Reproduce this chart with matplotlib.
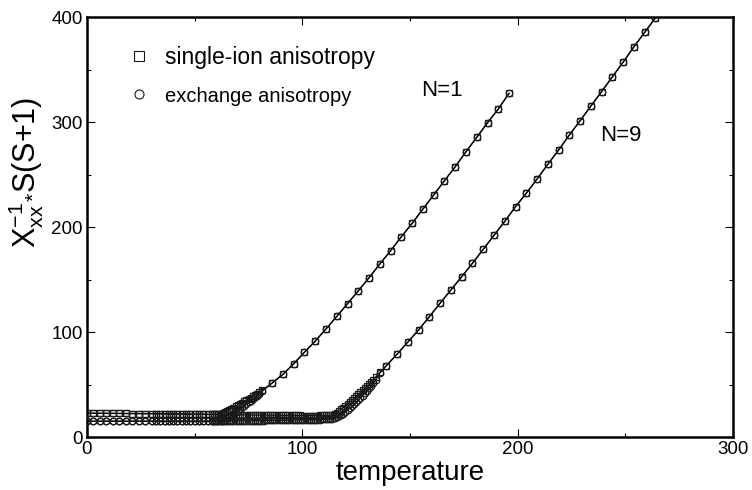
#!/usr/bin/env python3
"""
Inverse susceptibility X_xx^-1 * S(S+1) versus temperature for N=1 and N=9,
comparing single-ion and exchange anisotropy.
"""

import matplotlib
matplotlib.use("Agg")
import matplotlib.pyplot as plt
from matplotlib.lines import Line2D
from matplotlib.ticker import MultipleLocator

plt.rcParams["font.family"] = ["Liberation Sans", "DejaVu Sans"]
plt.rcParams["mathtext.fontset"] = "custom"
plt.rcParams["mathtext.rm"] = "Liberation Sans"
plt.rcParams["mathtext.it"] = "Liberation Sans"

# --- data ----------------------------------------------------------------

# low temperature part, shared by N=1 and N=9
T_low = [0, 3, 6, 9, 12, 15, 18, 21, 24, 27, 30, 32, 34, 36, 38, 40, 42, 44,
         46, 48, 50, 52, 54, 56, 58]
single_low = [22.6, 22.6, 22.5, 22.5, 22.5, 22.4, 22.4, 22.3, 22.3, 22.2,
              22.2, 22.1, 22.1, 22.0, 22.0, 21.9, 21.9, 21.8, 21.8, 21.7,
              21.7, 21.6, 21.6, 21.5, 21.5]
exch_low = [15.0, 15.0, 15.0, 15.0, 15.0, 15.0, 15.0, 15.0, 15.0, 15.0,
            15.0, 15.0, 15.0, 15.0, 15.0, 15.0, 15.0, 15.0, 15.0, 15.0,
            15.0, 15.0, 15.0, 15.0, 15.0]

# N=1: onset region
T1_rise = [59, 60, 61, 62, 63, 64, 65, 66, 67, 68, 69, 70, 71, 72, 73, 74,
           75, 76, 77, 78, 79, 80, 81.5, 86]
single1_rise = [21.5, 21.5, 21.8, 22.3, 23.0, 23.8, 24.7, 25.7, 26.8, 27.9,
                29.1, 30.3, 31.5, 32.7, 33.9, 35.1, 36.3, 37.5, 38.8, 40.0,
                41.3, 42.6, 44.5, 51.5]
exch1_rise = [15.0, 15.1, 15.3, 15.4, 15.5, 16.5, 17.7, 19.0, 20.5, 22.0,
              23.5, 25.0, 26.6, 28.2, 29.8, 31.4, 33.0, 34.6, 36.2, 37.8,
              39.5, 41.2, 44.0, 51.5]

# N=1: Curie-Weiss part (both anisotropies coincide)
T1_high = [91, 96, 101, 106, 111, 116, 121, 126, 131, 136, 141, 146, 151,
           156, 161, 166, 171, 176, 181, 186, 191, 196]
y1_high = [59.7, 69.8, 80.7, 91.4, 102.9, 114.9, 127.0, 139.3, 151.7, 164.8,
           177.4, 190.8, 203.5, 217.1, 230.5, 244.1, 257.4, 271.7, 285.4,
           299.3, 312.4, 327.3]

# N=9: plateau and onset region
T9_mid = [59, 60, 61, 62, 63, 64, 65, 66, 67, 68, 69, 70, 71, 72, 73, 74, 75,
          76, 77, 78, 79, 80, 81, 82, 83, 84, 85, 86, 87, 88, 89, 90, 91, 92,
          93, 94, 95, 96, 97, 98, 99, 100, 101, 102, 103, 104, 105, 106, 107,
          108, 109, 110, 111, 112, 113, 114, 115, 116, 117, 118, 119, 120,
          121, 122, 123, 124, 125, 126, 127, 128, 129, 130, 131, 132, 133,
          134, 136]
single9_mid = [21.5,
               21.5, 21.5, 21.4, 21.4, 21.4, 21.3, 21.3, 21.3, 21.2, 21.2,
               21.2, 21.1, 21.1, 21.1, 21.0, 21.0, 21.0, 20.9, 20.9, 20.9,
               20.9, 20.8, 20.8, 20.8, 20.8, 20.7, 20.7, 20.7, 20.7, 20.6,
               20.6, 20.6, 20.6, 20.6, 20.5, 20.5, 20.5, 20.5, 20.5, 20.5,
               20.4, 20.4, 20.4, 20.4, 20.4, 20.4, 20.4, 20.4, 20.5, 20.5,
               20.5, 20.6, 20.7, 20.8,
               21.0, 22.0, 23.3, 24.8, 26.4, 28.0, 29.7, 31.4, 33.2, 35.0,
               36.8, 38.7, 40.6, 42.5, 44.5, 46.5, 48.5, 50.5, 52.6, 54.7,
               56.8, 61.5]
exch9_mid = [15.0,
             15.0, 15.0, 15.1, 15.1, 15.1, 15.2, 15.2, 15.2, 15.3, 15.3,
             15.3, 15.4, 15.4, 15.4, 15.5, 15.5, 15.5, 15.6, 15.6, 15.6,
             15.7, 15.7, 15.7, 15.8, 15.8, 15.8, 15.9, 15.9, 15.9, 16.0,
             16.0, 16.0, 16.1, 16.1, 16.1, 16.2, 16.2, 16.2, 16.3, 16.3,
             16.3, 16.4, 16.4, 16.4, 16.5, 16.5, 16.5, 16.6, 16.6, 16.7,
             16.7, 16.8, 16.9, 17.0,
             17.3, 17.8, 18.6, 19.6, 20.8, 22.2, 23.8, 25.5, 27.3, 29.2,
             31.1, 33.1, 35.2, 37.3, 39.5, 41.7, 44.0, 46.4, 48.9, 51.5,
             54.3, 61.0]

# N=9: Curie-Weiss part
T9_high = [139, 144, 149, 154, 159, 164, 169, 174, 179, 184, 189, 194, 199,
           204, 209, 214, 219, 224, 229, 234, 239, 244, 249, 254, 259, 264]
y9_high = [67.9, 78.9, 90.5, 102.0, 114.6, 127.5, 140.0, 152.7, 165.4, 178.8,
           192.1, 205.4, 219.3, 232.1, 245.7, 259.7, 273.3, 287.6, 301.2,
           315.2, 329.0, 343.1, 357.0, 371.7, 385.4, 399.3]

labels = ["single-ion anisotropy", "exchange anisotropy"]

# --- figure --------------------------------------------------------------

fig = plt.figure(figsize=(7.52, 4.90), dpi=100)
ax = fig.add_axes([87 / 752, 53 / 490, 646 / 752, 420 / 490])

series = [
    (T_low + T1_rise + T1_high, single_low + single1_rise + y1_high, "s"),
    (T_low + T1_rise + T1_high, exch_low + exch1_rise + y1_high, "o"),
    (T_low + T9_mid + T9_high, single_low + single9_mid + y9_high, "s"),
    (T_low + T9_mid + T9_high, exch_low + exch9_mid + y9_high, "o"),
]

for t, y, m in series:
    ax.plot(t, y, color="black", lw=0.9, zorder=2)
for t, y, m in series:
    ax.plot(t, y, ls="none", marker=m, ms=4.7, mfc="none", mec="#1a1a1a",
            mew=0.9, zorder=3)

ax.set_xlim(0, 300)
ax.set_ylim(0, 400)
ax.xaxis.set_major_locator(MultipleLocator(100))
ax.xaxis.set_minor_locator(MultipleLocator(50))
ax.yaxis.set_major_locator(MultipleLocator(100))
ax.yaxis.set_minor_locator(MultipleLocator(50))
ax.tick_params(which="both", direction="in", top=True, right=True,
               width=0.8, labelsize=13.5)
ax.tick_params(which="major", length=6)
ax.tick_params(which="minor", length=3)
ax.tick_params(axis="x", pad=3)
ax.tick_params(axis="y", pad=3)
for sp in ax.spines.values():
    sp.set_linewidth(1.8)

ax.set_xlabel("temperature", fontsize=20, labelpad=1)
ax.set_ylabel(r"X$^{-1}_{xx}$$_{*}$S(S+1)", fontsize=22)
ax.yaxis.set_label_coords(-0.064, 0.63)

ax.text(165, 330, "N=1", fontsize=16, ha="center", va="center")
ax.text(248, 287, "N=9", fontsize=16, ha="center", va="center")

handles = [
    Line2D([], [], ls="none", marker="s", ms=6.5, mfc="none",
           mec="#1a1a1a", mew=0.8),
    Line2D([], [], ls="none", marker="o", ms=6.5, mfc="none",
           mec="#1a1a1a", mew=0.8),
]
leg = ax.legend(handles, labels, loc="upper left",
                bbox_to_anchor=(0.0635, 0.932), frameon=False, fontsize=16.5,
                borderpad=0, borderaxespad=0, handlelength=1.0,
                handletextpad=0.6, labelspacing=0.75)
leg.get_texts()[1].set_fontsize(14.5)

fig.savefig("out.png", dpi=100)
